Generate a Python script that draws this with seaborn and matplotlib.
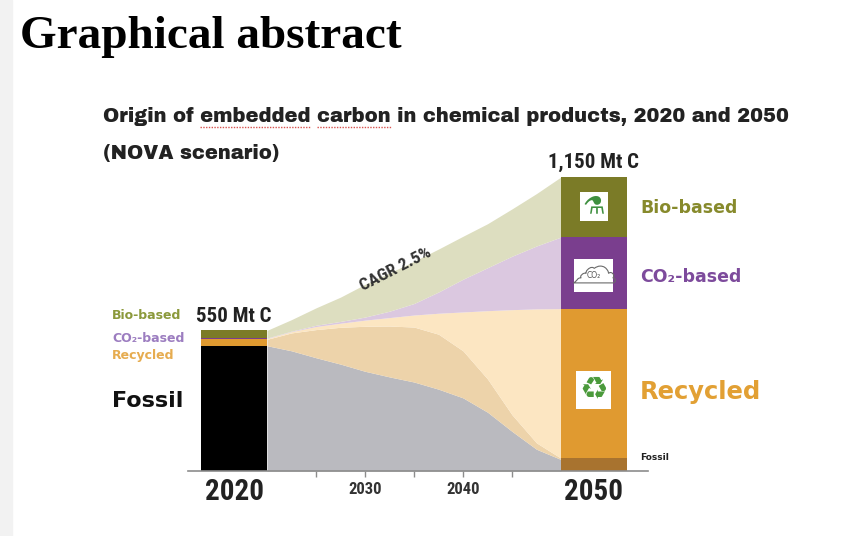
import numpy as np
import matplotlib
matplotlib.use('Agg')
import matplotlib.pyplot as plt
import seaborn as sns
from matplotlib.patches import Rectangle
from matplotlib.lines import Line2D

# flow between the two bars, Mt C per layer (bottom -> top)
years = [2020, 2022.5, 2025, 2027.5, 2030, 2032.5, 2035, 2037.5, 2040, 2042.5, 2045, 2047.5, 2050]
flow_fossil = [490, 470, 443, 418, 390, 368, 348, 320, 286, 230, 155, 85, 45]
flow_shift = [25, 70, 110, 144, 176, 199, 215, 215, 184, 130, 65, 25, 5]
flow_recycled = [3, 5, 12, 16, 24, 33, 47, 82, 152, 267, 411, 524, 585]
flow_co2 = [2, 2, 5, 7, 12, 25, 45, 83, 128, 168, 209, 246, 280]
flow_bio = [30, 45, 68, 95, 128, 150, 165, 168, 168, 172, 185, 205, 235]

# the two stacked bars
bar_years = [2020, 2050]
bar_labels = ['2020', '2050']
bar_fossil = [490, 50]
bar_recycled = [28, 585]
bar_co2 = [2, 280]
bar_bio = [30, 235]
bar_totals = ['550 Mt C', '1,150 Mt C']
tick_years = [2030, 2040]
minor_years = [2025, 2035, 2045]

sns.set_theme(style='white')
plt.rcParams['font.family'] = ['DejaVu Sans']
NARROW = ['Roboto Condensed', 'Archivo Narrow', 'Asap Condensed', 'DejaVu Sans']
SUB = ['Archivo Black', 'DejaVu Sans']

W, H = 848, 536
fig = plt.figure(figsize=(W / 100, H / 100), dpi=100)
fig.patch.set_facecolor('white')
fig.add_artist(Rectangle((0, 0), 12 / W, 1, transform=fig.transFigure, color='#f2f2f2', zorder=0))

# px mapping: 2020 at x=267px, 9.8 px per year; baseline at y=471px, 0.2557 px per Mt
ppy, ppm = 9.8, 0.2557
ax = fig.add_axes([188 / W, (H - 471) / H, 460 / W, 321 / H])
ax.set_xlim(2020 - 79 / ppy, 2020 + 381 / ppy)
ax.set_ylim(0, 321 / ppm)
ax.patch.set_alpha(0)

flow_colors = ['#bababf', '#edd3aa', '#fce6c2', '#dbc8e0', '#dddec0']
ax.stackplot(years, flow_fossil, flow_shift, flow_recycled, flow_co2, flow_bio,
             colors=flow_colors, linewidth=0)

bar_colors = {'fossil': ['#000000', '#a8732f'], 'recycled': '#e09a30',
              'co2': '#7a3e8e', 'bio': '#7b7b27'}
widths = [-6.7, 6.7]
bottom = np.zeros(2)
ax.bar(bar_years, bar_fossil, width=widths, align='edge', color=bar_colors['fossil'], linewidth=0)
bottom += bar_fossil
for key, vals in [('recycled', bar_recycled), ('co2', bar_co2), ('bio', bar_bio)]:
    ax.bar(bar_years, vals, width=widths, align='edge', bottom=bottom,
           color=bar_colors[key], linewidth=0)
    bottom += vals

centers = [y + w / 2 for y, w in zip(bar_years, widths)]
for cx, tot, lab, yl in zip(centers, bottom, bar_totals, bar_labels):
    ax.text(cx, tot + 56, lab, ha='center', va='center', fontsize=15,
            fontweight='bold', family=NARROW, color='#222222')
    ax.text(cx, -82, yl, ha='center', va='center', fontsize=21,
            fontweight='bold', family=NARROW, color='#222222')

# axis
sns.despine(ax=ax, left=True)
ax.spines['bottom'].set_color('#8c8c8c')
ax.spines['bottom'].set_linewidth(1.2)
ax.set_yticks([])
ax.set_xticks(tick_years)
ax.set_xticks(minor_years, minor=True)
ax.set_xticklabels([str(t) for t in tick_years], fontsize=12, fontweight='bold',
                   family=NARROW, color='#333333')
ax.tick_params(axis='x', which='both', direction='out', length=4, width=1,
               color='#8c8c8c', pad=4, bottom=True)

ax.text(2033.1, 790, 'CAGR 2.5%', rotation=27, ha='center', va='center',
        fontsize=12.5, fontweight='bold', family=NARROW, color='#333333')

# labels next to the 2050 bar
x_r = 2020 + (640 - 267) / ppy
ax.text(x_r, 1029, 'Bio-based', fontsize=12.5, fontweight='bold', color='#878a2c', va='center')
ax.text(x_r, 759, 'CO₂-based', fontsize=12.5, fontweight='bold', color='#7d4b9c', va='center')
ax.text(x_r, 309, 'Recycled', fontsize=17.5, fontweight='bold', color='#e2a034', va='center')
ax.text(x_r, 51, 'Fossil', fontsize=6.5, fontweight='bold', color='#222222', va='center')

# labels next to the 2020 bar
x_l = 2020 + (112 - 267) / ppy
ax.text(x_l, 610, 'Bio-based', fontsize=9, fontweight='bold', color='#8b993b', va='center')
ax.text(x_l, 520, 'CO₂-based', fontsize=9, fontweight='bold', color='#9c7dc0', va='center')
ax.text(x_l, 450, 'Recycled', fontsize=9, fontweight='bold', color='#e6ac50', va='center')
ax.text(x_l, 274, 'Fossil', fontsize=16, fontweight='bold', color='#111111', va='center')

# icons in the 2050 bar
ic = centers[1]
ax.text(ic, 1034, '⚗', ha='center', va='center', fontsize=18, color='#3f9040',
        bbox=dict(boxstyle='square,pad=0.1', fc='white', ec='none'))
ax.text(ic, 765, 'CO₂', ha='center', va='center', fontsize=5.5, color='#555555',
        bbox=dict(boxstyle='square,pad=1.6', fc='white', ec='none'))
ax.plot([ic], [772], marker='$☁$', markersize=30, markerfacecolor='none',
        markeredgecolor='#6a6a6a', markeredgewidth=0.8, linestyle='none', zorder=4)
ax.text(ic, 317, '♻', ha='center', va='center', fontsize=23, color='#4b9a3c',
        bbox=dict(boxstyle='square,pad=0.1', fc='white', ec='none'))

# titles
fig.text(20 / W, 1 - 37 / H, 'Graphical abstract', fontsize=34, fontweight='bold',
         family='Liberation Serif', va='center', ha='left', color='black')

renderer = fig.canvas.get_renderer()


def text_width(s, **kw):
    t = fig.text(0, 0, s, **kw)
    w = t.get_window_extent(renderer).width
    t.remove()
    return w


sub = 'Origin of embedded carbon in chemical products, 2020 and 2050'
sub_kw = dict(fontsize=13, fontweight='bold', family=SUB, color='#222222')
# fit the subtitle to the width it has in the original (103px -> 790px)
sub_kw['fontsize'] = 13 * 687 / text_width(sub, **sub_kw)
fig.text(103 / W, 1 - 116.5 / H, sub, va='center', ha='left', **sub_kw)
fig.text(103 / W, 1 - 153 / H, '(NOVA scenario)', va='center', ha='left', **sub_kw)

# spell-check squiggle under two words of the subtitle
for upto, word in [('Origin of embedded', 'embedded'), ('Origin of embedded carbon', 'carbon')]:
    x1 = 103 + text_width(upto, **sub_kw)
    x0 = x1 - text_width(word, **sub_kw)
    fig.add_artist(Line2D([x0 / W, x1 / W], [1 - 127 / H] * 2, transform=fig.transFigure,
                          color='#d9534f', lw=1, ls=(0, (1, 1))))

fig.savefig('out.png', dpi=100)
